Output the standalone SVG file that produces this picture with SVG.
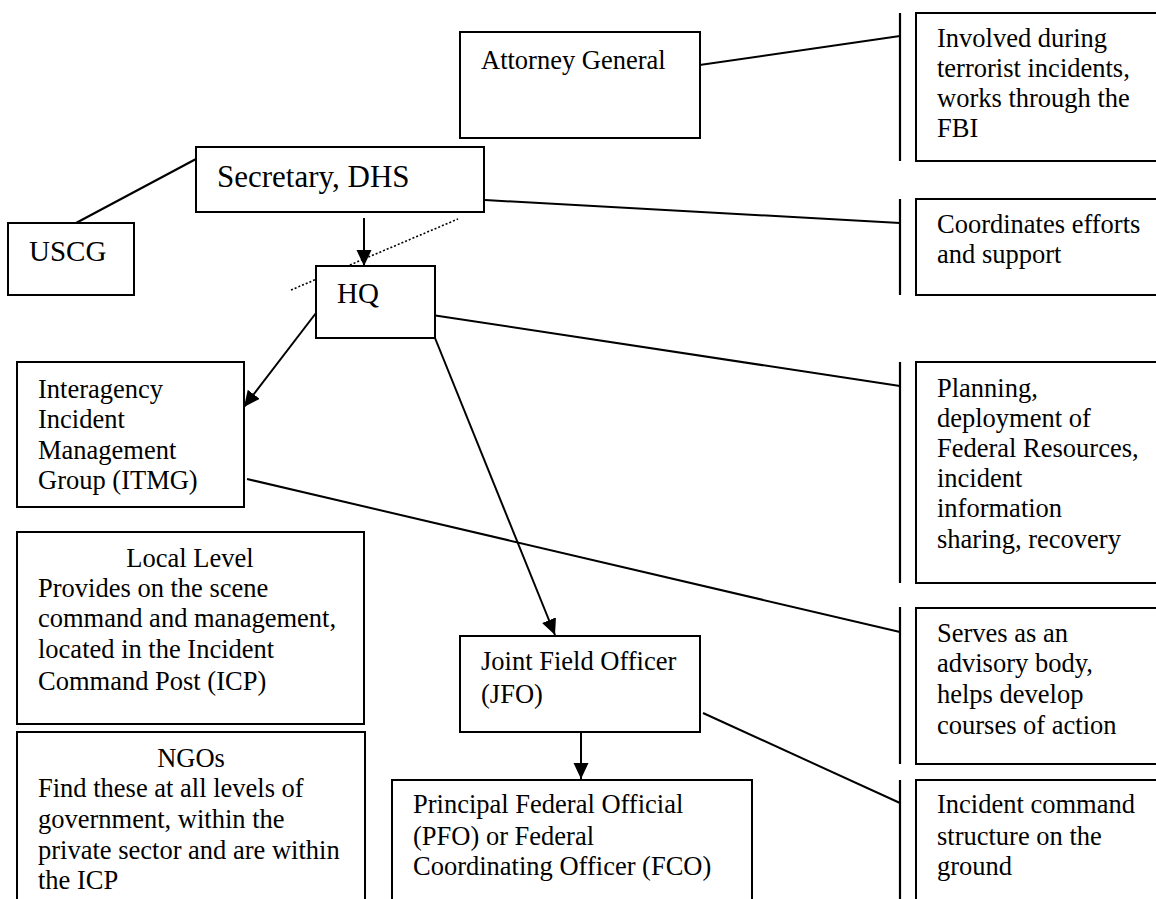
<svg xmlns="http://www.w3.org/2000/svg" width="1156" height="899" viewBox="0 0 1156 899">
<defs>
<style>
.box{fill:#fff;stroke:#000;stroke-width:2}
.bar{stroke:#000;stroke-width:2.2;fill:none}
.ln{stroke:#000;stroke-width:2;fill:none}
.arr{stroke:#000;stroke-width:2;fill:none;marker-end:url(#ah)}
.dot{stroke:#000;stroke-width:1.6;stroke-dasharray:2 2;fill:none}
text{font-family:"Liberation Serif","Times New Roman",serif;font-size:26.5px;fill:#000}
.big{font-size:31px}
.mid{font-size:29px}
.c{text-anchor:middle}
</style>
<marker id="ah" markerUnits="userSpaceOnUse" markerWidth="17" markerHeight="16" refX="16" refY="7.5" orient="auto">
<path d="M0,0 L16,7.5 L0,15 z" fill="#000"/>
</marker>
</defs>
<rect width="1156" height="899" fill="#fff"/>

<g id="connectors">
<line class="ln" x1="76" y1="223" x2="196" y2="159"/>
<line class="ln" x1="630" y1="75" x2="900" y2="36"/>
<line class="ln" x1="485" y1="200" x2="900" y2="223"/>
<line class="ln" x1="432" y1="315" x2="900" y2="386"/>
<line class="ln" x1="247" y1="479" x2="900" y2="632"/>
<line class="ln" x1="703" y1="713" x2="900" y2="803"/>
<line class="arr" x1="364" y1="218" x2="364" y2="266"/>
<line class="arr" x1="316" y1="313" x2="244" y2="407"/>
<line class="arr" x1="435" y1="338" x2="555" y2="635"/>
<line class="arr" x1="581" y1="732" x2="581" y2="779"/>
<line class="dot" x1="291" y1="290" x2="458" y2="219"/>
</g>

<g id="attorney-general">
<rect class="box" x="460" y="32" width="240" height="106"/>
<text x="481" y="69">Attorney General</text>
</g>

<g id="secretary-dhs">
<rect class="box" x="196" y="147" width="288" height="65"/>
<text class="big" x="217" y="187">Secretary, DHS</text>
</g>

<g id="uscg">
<rect class="box" x="8" y="223" width="126" height="72"/>
<text class="mid" x="29" y="261">USCG</text>
</g>

<g id="hq">
<rect class="box" x="316" y="266" width="119" height="72"/>
<text class="mid" x="337" y="303">HQ</text>
</g>

<g id="itmg">
<rect class="box" x="17" y="362" width="227" height="145"/>
<text x="38" y="398">Interagency</text>
<text x="38" y="428">Incident</text>
<text x="38" y="459">Management</text>
<text x="38" y="489">Group (ITMG)</text>
</g>

<g id="local-level">
<rect class="box" x="17" y="532" width="347" height="192"/>
<text class="c" x="190" y="567">Local Level</text>
<text x="38" y="597">Provides on the scene</text>
<text x="38" y="627">command and management,</text>
<text x="38" y="658">located in the Incident</text>
<text x="38" y="690">Command Post (ICP)</text>
</g>

<g id="ngos">
<rect class="box" x="17" y="732" width="348" height="180"/>
<text class="c" x="191" y="767">NGOs</text>
<text x="38" y="797">Find these at all levels of</text>
<text x="38" y="828">government, within the</text>
<text x="38" y="859">private sector and are within</text>
<text x="38" y="889">the ICP</text>
</g>

<g id="jfo">
<rect class="box" x="460" y="636" width="240" height="96"/>
<text x="481" y="670">Joint Field Officer</text>
<text x="481" y="703">(JFO)</text>
</g>

<g id="pfo">
<rect class="box" x="392" y="780" width="360" height="130"/>
<text x="413" y="813">Principal Federal Official</text>
<text x="413" y="845">(PFO) or Federal</text>
<text x="413" y="875">Coordinating Officer (FCO)</text>
</g>

<g id="involved">
<line class="bar" x1="900" y1="13" x2="900" y2="161"/>
<rect class="box" x="916" y="13" width="260" height="148"/>
<text x="937" y="47">Involved during</text>
<text x="937" y="77">terrorist incidents,</text>
<text x="937" y="107">works through the</text>
<text x="937" y="137">FBI</text>
</g>

<g id="coordinates">
<line class="bar" x1="900" y1="199" x2="900" y2="295"/>
<rect class="box" x="916" y="199" width="260" height="96"/>
<text x="937" y="233">Coordinates efforts</text>
<text x="937" y="263">and support</text>
</g>

<g id="planning">
<line class="bar" x1="900" y1="362" x2="900" y2="583"/>
<rect class="box" x="916" y="362" width="260" height="221"/>
<text x="937" y="397">Planning,</text>
<text x="937" y="427">deployment of</text>
<text x="937" y="457">Federal Resources,</text>
<text x="937" y="487">incident</text>
<text x="937" y="517">information</text>
<text x="937" y="548">sharing, recovery</text>
</g>

<g id="serves">
<line class="bar" x1="900" y1="607" x2="900" y2="764"/>
<rect class="box" x="916" y="608" width="260" height="156"/>
<text x="937" y="642">Serves as an</text>
<text x="937" y="672">advisory body,</text>
<text x="937" y="703">helps develop</text>
<text x="937" y="734">courses of action</text>
</g>

<g id="incident-command">
<line class="bar" x1="900" y1="780" x2="900" y2="910"/>
<rect class="box" x="916" y="780" width="260" height="130"/>
<text x="937" y="813">Incident command</text>
<text x="937" y="845">structure on the</text>
<text x="937" y="875">ground</text>
</g>
</svg>
